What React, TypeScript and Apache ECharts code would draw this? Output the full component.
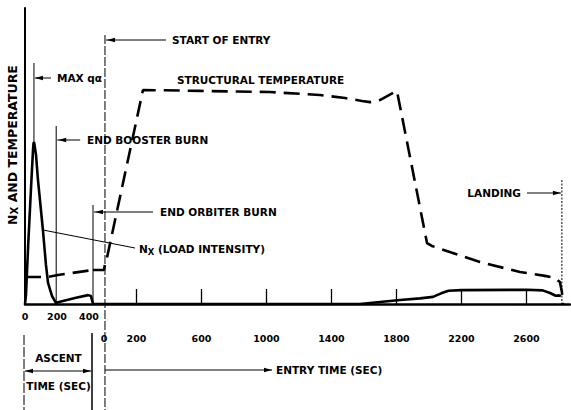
import React, { useEffect, useRef } from "react";
import * as echarts from "echarts";

// Tick labels / tick marks
const ascentTickLabels = [0, 200, 400];
const entryTickLabels = [0, 200, 600, 1000, 1400, 1800, 2200, 2600];
const entryTickMarks = [200, 600, 1000, 1400, 1800, 2200, 2600];

// Nx (load intensity) during ascent: [ascent time s, relative level]
const nxAscent: [number, number][] = [
  [0, 0], [6, 3], [20, 20], [37, 38.5], [50, 52], [53, 54.2], [56, 54.7], [60, 53.6],
  [69, 50.3], [81, 41.9], [112, 25], [131, 13.2], [144, 7.1], [169, 2.7], [194, 0.3],
  [200, 0.5], [312, 2.0], [394, 3.0], [412, 2.7], [425, 0],
];
// Nx during entry: [entry time s, relative level]
const nxEntry: [number, number][] = [
  [-68, 0], [0, 0], [1575, 0], [1698, 0.7], [1822, 1.35], [1945, 1.9], [2025, 2.4],
  [2075, 3.6], [2120, 4.5], [2200, 4.7], [2600, 4.8], [2700, 4.6], [2745, 3.7],
  [2780, 2.8], [2800, 2.9], [2812, 2.7],
];
// Structural temperature during ascent
const tempAscent: [number, number][] = [
  [0, 9.1], [137, 9.1], [206, 9.8], [425, 11.5],
];
// Structural temperature during entry
const tempEntry: [number, number][] = [
  [-68, 11.5], [0, 11.5], [9, 14.2], [18, 15.5], [240, 72.3], [591, 72.0], [1022, 71.6],
  [1329, 70.6], [1483, 69.6], [1588, 68.6], [1637, 68.2], [1698, 68.9], [1803, 72.0],
  [1988, 20.6], [2018, 19.6], [2314, 14.2], [2560, 10.8], [2714, 9.5], [2775, 8.8],
  [2806, 7.4], [2818, 4.1], [2825, 0],
];

// Events
const MAX_QA = 56; // ascent s
const END_BOOSTER = 195; // ascent s
const END_ORBITER = 425; // ascent s
const START_ENTRY = 0; // entry s
const LANDING = 2818; // entry s

const FONT = '"DejaVu Sans", sans-serif';

export default function App() {
  const ref = useRef<HTMLDivElement>(null);
  useEffect(() => {
    const chart = echarts.init(ref.current!, null, { renderer: "svg" });
    const lbl = {
      color: "#000", fontFamily: FONT, fontWeight: "bold", fontSize: 9.5,
      formatter: (v: number) => String(v),
    };
    const solid = { color: "#000", width: 2.6 };
    const dashed = { color: "#000", width: 2.6, type: [16, 8] as number[] };
    chart.setOption({
      animation: false,
      grid: { left: 25, right: 1, top: 8, bottom: 106, outerBoundsMode: "none" },
      xAxis: [
        {
          type: "value", min: 0, max: 3406, position: "bottom",
          axisLine: { show: true, lineStyle: { color: "#000", width: 2.5 } },
          axisTick: { show: false }, splitLine: { show: false },
          axisLabel: { ...lbl, margin: 7, customValues: ascentTickLabels },
        },
        {
          type: "value", min: -486, max: 2868, position: "bottom", offset: 21,
          axisLine: { show: false }, axisTick: { show: false }, splitLine: { show: false },
          axisLabel: { ...lbl, margin: 8, customValues: entryTickLabels },
        },
        {
          type: "value", min: -486, max: 2868, position: "bottom",
          axisLine: { show: false }, splitLine: { show: false },
          axisLabel: { show: false },
          axisTick: { show: true, inside: true, length: 15, customValues: entryTickMarks, lineStyle: { color: "#000", width: 1.3 } },
        },
      ],
      yAxis: {
        type: "value", min: 0, max: 100,
        axisLine: { show: true, lineStyle: { color: "#000", width: 2 } },
        axisTick: { show: false }, axisLabel: { show: false }, splitLine: { show: false },
      },
      series: [
        { type: "line", xAxisIndex: 0, data: nxAscent, showSymbol: false, lineStyle: solid },
        { type: "line", xAxisIndex: 1, data: nxEntry, showSymbol: false, lineStyle: solid },
        { type: "line", xAxisIndex: 0, data: tempAscent, showSymbol: false, lineStyle: dashed },
        { type: "line", xAxisIndex: 1, data: tempEntry, showSymbol: false, lineStyle: dashed },
      ],
    });

    const ax = (i: number, v: number) => chart.convertToPixel({ xAxisIndex: i } as any, v) as number;
    const line = (x1: number, y1: number, x2: number, y2: number, w = 1, dash?: number[]) => ({
      type: "line", silent: true, shape: { x1, y1, x2, y2 },
      style: { stroke: "#000", lineWidth: w, lineDash: dash },
    });
    const head = (x: number, y: number, dir: number) => ({
      type: "polygon", silent: true,
      shape: { points: [[x, y], [x - dir * 8, y - 2.3], [x - dir * 8, y + 2.3]] },
      style: { fill: "#000" },
    });
    const txt = (x: number, y: number, text: string, align = "left", size = 10.5) => ({
      type: "text", silent: true, x, y,
      style: { text, fill: "#000", font: `bold ${size}px ${FONT}`, textAlign: align, textVerticalAlign: "middle" },
    });
    const rich = (size: number) => ({
      n: { fontFamily: FONT, fontWeight: "bold", fontSize: size, lineHeight: size + 3, verticalAlign: "middle", fill: "#000" },
      s: { fontFamily: FONT, fontWeight: "bold", fontSize: size * 0.8, lineHeight: size * 0.8, verticalAlign: "bottom", fill: "#000" },
    });

    const xQa = ax(0, MAX_QA);
    const xBo = ax(0, END_BOOSTER);
    const xOr = ax(0, END_ORBITER);
    const xSe = ax(1, START_ENTRY) + 1;
    const xLa = ax(1, LANDING);
    const xA0 = ax(0, 0) - 1;

    const elements: any[] = [
      // MAX q-alpha
      line(xQa, 63, xQa, 142, 1),
      line(xQa + 1, 78, xQa + 17, 78, 1), head(xQa + 1, 78, -1),
      txt(57, 78, "MAX qα"),
      // End booster burn
      line(xBo, 126, xBo, 304, 1),
      line(xBo + 1, 140, xBo + 24, 140, 1), head(xBo + 2, 140, -1),
      txt(87, 140, "END BOOSTER BURN"),
      // Start of entry
      line(xSe, 35, xSe, 410, 1, [9, 2]),
      line(xSe + 1, 40, xSe + 61, 40, 1), head(xSe + 2, 40, -1),
      txt(172, 40, "START OF ENTRY"),
      // End orbiter burn
      line(xOr, 205, xOr, 304, 1),
      line(xOr + 1, 212, xOr + 60, 212, 1), head(xOr + 2, 212, -1),
      txt(160, 212, "END ORBITER BURN"),
      // Nx label
      line(43, 230, 135, 248, 1),
      {
        type: "text", silent: true, x: 139, y: 249,
        style: { text: "{n|N}{s|X}{n| (LOAD INTENSITY)}", rich: rich(10.5), textAlign: "left", textVerticalAlign: "middle" },
      },
      txt(177, 80, "STRUCTURAL TEMPERATURE"),
      // Landing
      line(xLa, 180, xLa, 304, 1, [2, 1.5]),
      line(527, 193, xLa - 1, 193, 1), head(xLa - 1, 193, 1),
      txt(521, 193, "LANDING", "right"),
      // Y axis title
      {
        type: "text", silent: true, x: 12, y: 145, rotation: Math.PI / 2,
        style: { text: "{n|N}{s|X}{n| AND TEMPERATURE}", rich: rich(12.5), textAlign: "center", textVerticalAlign: "middle" },
      },
      // Ascent bracket
      line(xA0, 335, xA0, 410, 1, [10, 2]),
      line(xOr - 1, 333, xOr - 1, 410, 1.5),
      line(xA0 + 1, 371, xOr - 2, 371, 1), head(xA0 + 1, 371, -1), head(xOr - 2, 371, 1),
      txt((xA0 + xOr) / 2, 358, "ASCENT", "center"),
      txt((xA0 + xOr) / 2, 386, "TIME (SEC)", "center"),
      // Entry time arrow
      line(xSe, 370, 272, 370, 1), head(272, 370, 1),
      txt(276, 370, "ENTRY TIME (SEC)"),
    ];
    chart.setOption({ graphic: { elements } });
    return () => chart.dispose();
  }, []);
  return (
    <div
      ref={ref}
      style={{ position: "fixed", left: 0, top: 0, width: 571, height: 410, background: "#fff" }}
    />
  );
}
